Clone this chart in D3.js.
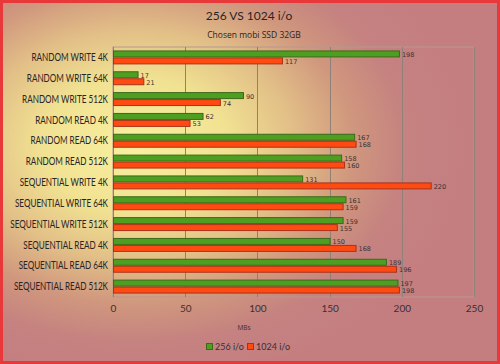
<!DOCTYPE html>
<html><head><meta charset="utf-8">
<script src="https://cdn.jsdelivr.net/npm/d3@7"></script>
<style>html,body{margin:0;padding:0;overflow:hidden}svg{display:block}</style>
</head><body>
<svg id="c" width="500" height="364"></svg>
<script>
const categories = ["RANDOM WRITE 4K","RANDOM WRITE 64K","RANDOM WRITE 512K","RANDOM READ 4K","RANDOM READ 64K","RANDOM READ 512K","SEQUENTIAL WRITE 4K","SEQUENTIAL WRITE 64K","SEQUENTIAL WRITE 512K","SEQUENTIAL READ 4K","SEQUENTIAL READ 64K","SEQUENTIAL READ 512K"];
const series256 = [198,17,90,62,167,158,131,161,159,150,189,197];
const series1024 = [117,21,74,53,168,160,220,159,155,168,196,198];
const seriesNames = ["256 i/o","1024 i/o"];
const xTicks = [0,50,100,150,200,250];
const title = "256 VS 1024 i/o";
const subtitle = "Chosen mobi SSD 32GB";
const xTitle = "MBs";

const svg = d3.select("#c");
const defs = svg.append("defs");
const rg = defs.append("radialGradient").attr("id","bg")
  .attr("cx","0.27").attr("cy","0.4").attr("r","0.66").attr("fx","0.27").attr("fy","0.4");
[["0%","#f8f0a0"],["28%","#f1e292"],["48%","#e2bf87"],["66%","#d0977e"],["82%","#c58280"],["100%","#c47e80"]]
  .forEach(([o,c])=>rg.append("stop").attr("offset",o).attr("stop-color",c));
svg.append("rect").attr("width",500).attr("height",364).attr("fill","url(#bg)");
svg.append("rect").attr("x",1.5).attr("y",1.5).attr("width",497).attr("height",361)
  .attr("fill","none").attr("stroke","#e8383a").attr("stroke-width",3);

const x = d3.scaleLinear().domain([0,250]).range([113,474]);
const y = d3.scaleBand().domain(categories).range([47,297]).paddingInner(0.33).paddingOuter(0.165);
const ys = d3.scaleBand().domain(seriesNames).range([0,y.bandwidth()]);
const colors = {"256 i/o":"#4e9e22","1024 i/o":"#ff4b12"};
const strokes = {"256 i/o":"#3b6a18","1024 i/o":"#a8321a"};

// plot frame
svg.append("rect").attr("x",x(0)).attr("y",47).attr("width",x(250)-x(0)).attr("height",250)
  .attr("fill","none").attr("stroke","#b79890").attr("stroke-width",1);
// gridlines
svg.append("g").selectAll("line").data(xTicks).join("line")
  .attr("x1",d=>Math.round(x(d))+0.5).attr("x2",d=>Math.round(x(d))+0.5)
  .attr("y1",47).attr("y2",297).attr("stroke","#8f8078").attr("stroke-width",1);

// axis
const ax = svg.append("g").attr("transform","translate(0,297)")
  .call(d3.axisBottom(x).tickValues(xTicks).tickSize(0).tickPadding(8));
ax.select(".domain").remove();
ax.selectAll("text").attr("font-family","Lato, 'Open Sans', sans-serif").attr("font-size",10).attr("fill","#3a3030");

const rows = categories.map((c,i)=>({cat:c, vals:[{s:seriesNames[0],v:series256[i]},{s:seriesNames[1],v:series1024[i]}]}));
const g = svg.append("g").selectAll("g").data(rows).join("g")
  .attr("transform",d=>`translate(0,${y(d.cat)})`);
g.selectAll("rect").data(d=>d.vals).join("rect")
  .attr("x",x(0)+0.5).attr("y",d=>ys(d.s)+0.5)
  .attr("width",d=>x(d.v)-x(0)).attr("height",ys.bandwidth()-1)
  .attr("fill",d=>colors[d.s]).attr("stroke",d=>strokes[d.s]).attr("stroke-width",1);
g.selectAll("text.v").data(d=>d.vals).join("text").attr("class","v")
  .attr("x",d=>x(d.v)+3).attr("y",d=>ys(d.s)+ys.bandwidth()/2+3)
  .attr("font-family","'DejaVu Sans', sans-serif").attr("font-size",6.5).attr("fill","#3a3030")
  .text(d=>d.v);

// category labels (condensed to the reference width)
const labG = svg.append("g");
const labs = labG.selectAll("text").data(categories).join("text")
  .attr("x",0).attr("y",d=>y(d)+y.bandwidth()/2+3.7)
  .attr("text-anchor","end").attr("font-family","Lato, sans-serif")
  .attr("font-size",10.5).attr("fill","#2a2424").text(d=>d);
let maxW = 0;
labs.each(function(){ maxW = Math.max(maxW, this.getComputedTextLength()); });
const k = Math.min(1, 98 / maxW);
labG.attr("transform",`translate(108,0) scale(${k},1)`);

svg.append("text").attr("x",249).attr("y",20).attr("text-anchor","middle")
  .attr("font-family","Lato, sans-serif").attr("font-size",12).attr("fill","#2a2424").text(title);
svg.append("text").attr("x",254).attr("y",38).attr("text-anchor","middle")
  .attr("font-family","'Open Sans', sans-serif").attr("font-size",8.5).attr("fill","#2a2424").text(subtitle);
svg.append("text").attr("x",244).attr("y",330).attr("text-anchor","middle")
  .attr("font-family","'Open Sans', sans-serif").attr("font-size",6.5).attr("fill","#3a3030").text(xTitle);

// legend
const leg = svg.append("g").selectAll("g").data(seriesNames).join("g")
  .attr("transform",(d,i)=>`translate(${i===0?206:247},343)`);
leg.append("rect").attr("x",0.5).attr("y",0.5).attr("width",6).attr("height",6)
  .attr("fill",d=>colors[d]).attr("stroke",d=>strokes[d]);
leg.append("text").attr("x",9).attr("y",7).attr("font-family","Lato, sans-serif")
  .attr("font-size",9).attr("fill","#3a3030").text(d=>d);
</script>
</body></html>
